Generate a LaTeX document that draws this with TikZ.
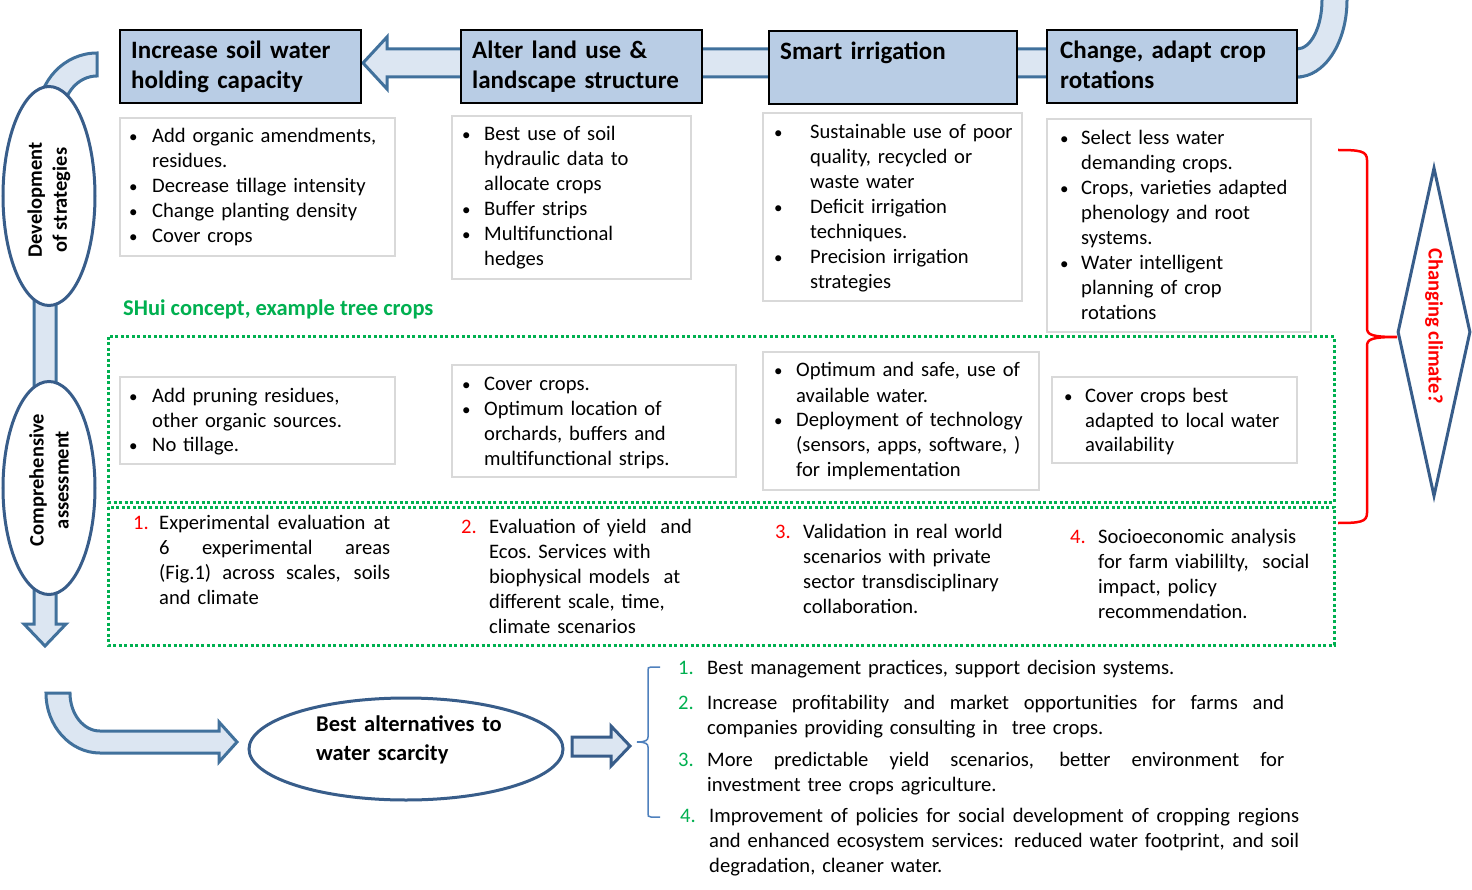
\documentclass[tikz,border=0pt]{standalone}
\usepackage{fontspec}
\setmainfont{Carlito}
\usetikzlibrary{shapes.geometric}

\definecolor{titleblue}{HTML}{B9CDE5}
\definecolor{arrowfill}{HTML}{DCE6F2}
\definecolor{arrowline}{HTML}{41719C}
\definecolor{ovalline}{HTML}{385D8A}
\definecolor{boxgray}{HTML}{D9D9D9}
\definecolor{shuigreen}{HTML}{00B050}
\definecolor{bracered}{HTML}{FF0000}
\definecolor{braceblue}{HTML}{4F81BD}

\newcommand{\bodyfont}{\fontsize{20.6}{25}\selectfont}
\newcommand{\titlefont}{\fontsize{25}{30}\selectfont\bfseries}
\newcommand{\ovalfont}{\fontsize{20.5}{25}\selectfont\bfseries}
\newcommand{\bul}[1][23pt]{\leavevmode\llap{\makebox[#1][l]{\fontsize{17}{17}\selectfont\textbullet}}}
\newcommand{\nr}[3]{\leavevmode\llap{\makebox[#1][l]{\textcolor{#2}{#3}}}}
\newcommand{\just}[2]{\makebox[#1][s]{\spaceskip=0.22em plus 2em minus 0.05em\relax #2}}

\tikzset{
  titlebox/.style={draw=black, line width=2pt, fill=titleblue},
  detbox/.style={draw=boxgray, line width=2pt, fill=white},
  band/.style={draw=arrowline, line width=3pt, fill=arrowfill},
  oval/.style={ellipse, draw=ovalline, line width=3pt, fill=white, inner sep=0pt},
  txt/.style={anchor=base west, inner sep=0pt, align=left, font=\bodyfont},
  ttl/.style={anchor=base west, inner sep=0pt, align=left, font=\titlefont, text width=#1},
  zone/.style={draw=shuigreen, line width=3pt, dash pattern=on 3pt off 2.5pt},
}

\begin{document}
\begin{tikzpicture}[x=1pt, y=-1pt]
    \useasboundingbox[fill=white] (0,0) rectangle (1472,890);

    % band along the top, right to left
    \draw[band] (1300,49) -- (387,49) -- (387,37) -- (363,63) -- (387,89) -- (387,77) -- (1300,77) -- cycle;
    \draw[band] (1290,49) -- (1297,49) .. controls (1310.8,49) and (1322,27.1) .. (1322,0) -- (1322,-4) -- (1347,-4)
        -- (1347,0) .. controls (1347,42.5) and (1324.6,77) .. (1297,77) -- (1290,77) -- cycle;

    % band down the left side
    \draw[band] (97,53) .. controls (64.4,53) and (38,80.8) .. (38,115) -- (63,115)
        .. controls (63,93.5) and (78.2,76) .. (97,76) -- cycle;
    \draw[band] (34,290) -- (34,624) -- (24,624) -- (45,646) -- (66,624) -- (56,624) -- (56,290) -- cycle;

    \node[oval, minimum width=92, minimum height=219] (dev) at (49,196) {};
    \node[oval, minimum width=92, minimum height=213] (assess) at (49,488) {};
    \node[rotate=90, font=\ovalfont, align=center, inner sep=0pt] (devtxt) at (49,200) {Development\\of strategies};
    \node[rotate=90, font=\ovalfont, align=center, inner sep=0pt] (assesstxt) at (49,480) {Comprehensive\\assessment};

    % title boxes
    \draw[titlebox] (120,30) rectangle (361,103);
    \draw[titlebox] (461,30) rectangle (702,103);
    \draw[titlebox] (769,31) rectangle (1017,104);
    \draw[titlebox] (1047,30) rectangle (1297,103);
    \node[ttl=230] (incr) at (131,59) {Increase soil water\\holding capacity};
    \node[ttl=230] (alter) at (472,59) {Alter land use \&\\landscape structure};
    \node[ttl=230] (smart) at (780,60) {Smart irrigation};
    \node[ttl=240] (change) at (1060,59) {Change, adapt crop\\rotations};

    % SHui zones
    \draw[zone] (108,337) rectangle (1334,502);
    \draw[zone] (108,507) rectangle (1334,645);

    % strategy boxes
    \foreach \xa/\ya/\xb/\yb in {120/118/395/256, 452/116/691/279, 763/113/1022/301, 1047/119/1311/332,
                                 120/377/395/464, 452/365/736/477, 763/352/1039/490, 1052/377/1297/463} {
        \draw[detbox] (\xa,\ya) rectangle (\xb,\yb);
    }

    \node[txt, text width=240] (soil) at (152,143) {\bul Add organic amendments,\\residues.\\\bul Decrease tillage intensity\\\bul Change planting density\\\bul Cover crops};
    \node[txt, text width=205] (land) at (484,141) {\bul[22pt]Best use of soil\\hydraulic data to\\allocate crops\\\bul[22pt]Buffer strips\\\bul[22pt]Multifunctional\\hedges};
    \node[txt, text width=210] (irrig) at (810,139) {\bul[36pt]Sustainable use of poor\\quality, recycled or\\waste water\\\bul[36pt]Deficit irrigation\\techniques.\\\bul[36pt]Precision irrigation\\strategies};
    \node[txt, text width=228] (rot) at (1081,145) {\bul[21pt]Select less water\\demanding crops.\\\bul[21pt]Crops, varieties adapted\\phenology and root\\systems.\\\bul[21pt]Water intelligent\\planning of crop\\rotations};

    \node[anchor=base west, inner sep=0pt, font=\fontsize{22.5}{27}\selectfont\bfseries, text=shuigreen] (shui) at (123,316) {SHui concept, example tree crops};

    \node[txt, text width=240] (prune) at (152,402) {\bul Add pruning residues,\\other organic sources.\\\bul No tillage.};
    \node[txt, text width=245] (cover) at (484,390) {\bul[22pt]Cover crops.\\\bul[22pt]Optimum location of\\orchards, buffers and\\multifunctional strips.};
    \node[txt, text width=240] (safe) at (796,377) {\bul[22pt]Optimum and safe, use of\\available water.\\\bul[22pt]Deployment of technology\\(sensors, apps, software, )\\for implementation};
    \node[txt, text width=205] (local) at (1085,402) {\bul[21pt]Cover crops best\\adapted to local water\\availability};

    % assessment steps
    \node[txt, text width=231] (step1) at (159,529) {\nr{26pt}{bracered}{1.}\just{231pt}{Experimental evaluation at}\\\just{231pt}{6 experimental areas}\\\just{231pt}{(Fig.1) across scales, soils}\\and climate};
    \node[txt, text width=220] (step2) at (489,533) {\nr{28pt}{bracered}{2.}Evaluation of yield \ and\\Ecos.\ Services with\\biophysical models \ at\\different scale, time,\\climate scenarios};
    \node[txt, text width=220] (step3) at (803,538) {\nr{28pt}{bracered}{3.}Validation in real world\\scenarios with private\\sector transdisciplinary\\collaboration.};
    \node[txt, text width=225] (step4) at (1098,543) {\nr{28pt}{bracered}{4.}Socioeconomic analysis\\for farm viabililty, \ social\\impact, policy\\recommendation.};

    % changing climate
    \draw[bracered, line width=2.5pt] (1338,150) .. controls (1360,150) and (1367,151) .. (1367,160) -- (1367,328)
        .. controls (1367,335) and (1372,337) .. (1397,337) .. controls (1372,337) and (1367,339) .. (1367,346)
        -- (1367,513) .. controls (1367,522) and (1360,523) .. (1338,523);
    \node[diamond, draw=ovalline, line width=3pt, fill=white, inner sep=0pt, minimum width=73, minimum height=329] (clim) at (1434,332) {};
    \node[rotate=-90, inner sep=0pt, font=\ovalfont, text=bracered] (climtxt) at (1434,326) {Changing climate?};

    % outcome
    \draw[band] (46,693) .. controls (46,726.1) and (70.2,753) .. (100,753) -- (219,753) -- (219,762) -- (237,742)
        -- (219,722) -- (219,731) -- (100,731) .. controls (83.4,731) and (70,714) .. (70,693) -- cycle;
    \node[oval, minimum width=314, minimum height=102] (best) at (406,749) {};
    \node[anchor=base west, inner sep=0pt, align=left, text width=200, font=\fontsize{22.5}{29}\selectfont\bfseries] (besttxt) at (316,731) {Best alternatives to\\water scarcity};
    \draw[band, draw=ovalline] (572,737) -- (611,737) -- (611,726) -- (630,746) -- (611,766) -- (611,756) -- (572,756) -- cycle;
    \draw[braceblue, line width=1.5pt] (660,667) -- (651,667) .. controls (648,667) and (648,668) .. (648,671) -- (648,737)
        .. controls (648,740) and (646,742) .. (637,742) .. controls (646,742) and (648,744) .. (648,747)
        -- (648,813) .. controls (648,816) and (648,817) .. (651,817) -- (660,817);

    \node[txt, text width=577] (out1) at (707,674) {\nr{29pt}{shuigreen}{1.}Best management practices, support decision systems.};
    \node[txt, text width=577] (out2) at (707,709) {\nr{29pt}{shuigreen}{2.}\just{577pt}{Increase profitability and market opportunities for farms and}\\companies providing consulting in \ tree crops.};
    \node[txt, text width=577] (out3) at (707,766) {\nr{29pt}{shuigreen}{3.}\just{577pt}{More predictable yield scenarios, better environment for}\\investment tree crops agriculture.};
    \node[txt, text width=590] (out4) at (709,822) {\nr{29pt}{shuigreen}{4.}\just{590pt}{Improvement of policies for social development of cropping regions}\\\just{590pt}{and enhanced ecosystem services: reduced water footprint, and soil}\\degradation, cleaner water.};

\end{tikzpicture}
\end{document}
